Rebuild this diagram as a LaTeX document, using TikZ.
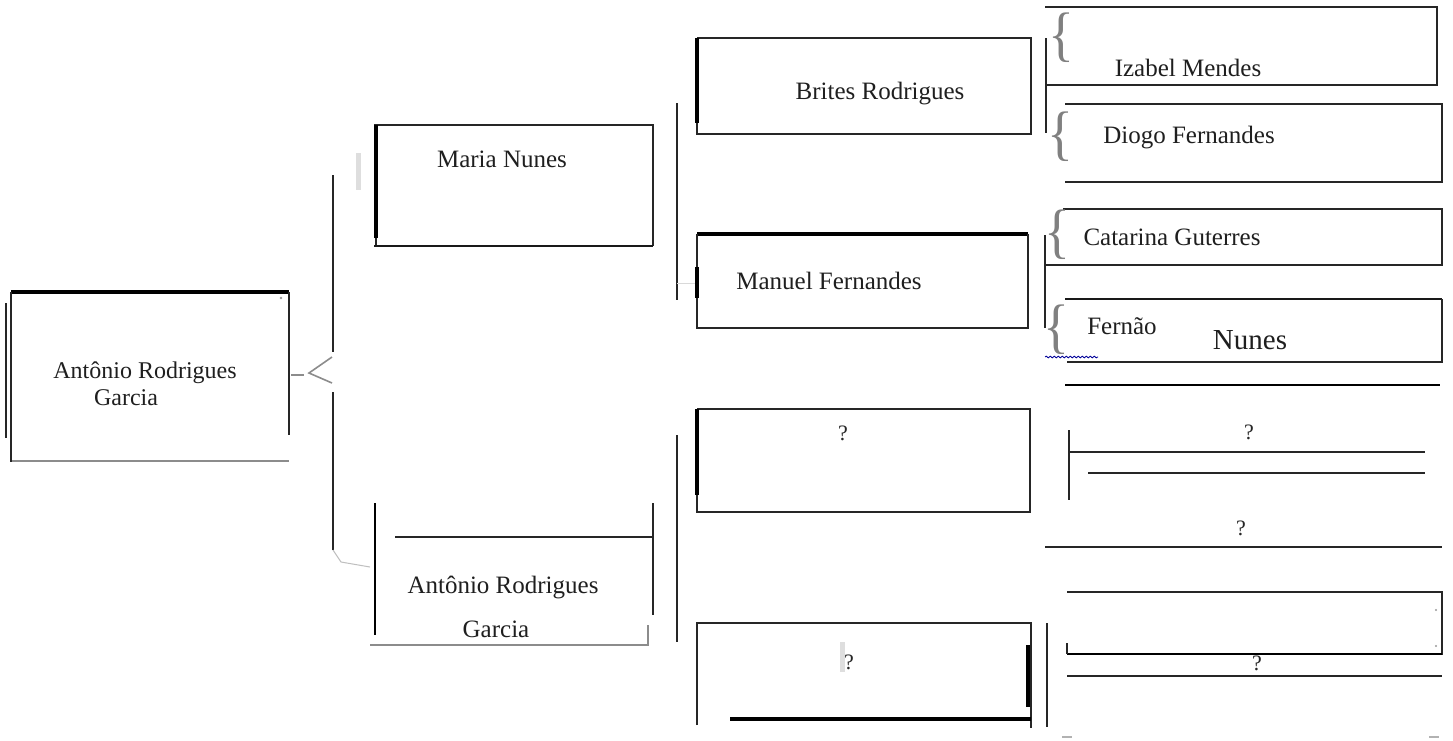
\documentclass[tikz,border=0pt]{standalone}
\usepackage{fontspec}
\setmainfont{Liberation Serif}
\usetikzlibrary{decorations.pathmorphing}
\begin{document}
\begin{tikzpicture}[x=1pt,y=-1pt,
  ln/.style={draw=black!85, line width=1.4pt},
  thk/.style={draw=black, line width=3.4pt},
  gl/.style={draw=black!45, line width=1.4pt},
  faint/.style={fill=black!13},
  lbl/.style={font=\fontsize{25}{30}\selectfont, inner sep=0pt, anchor=base, text=black!88},
  qm/.style={font=\fontsize{22}{26}\selectfont, inner sep=0pt, text=black!85},
  brc/.style={font=\fontsize{60}{62}\selectfont, inner sep=0pt, text=black!50, xscale=0.9}
]
\useasboundingbox[fill=white] (0,0) rectangle (1453,740);

% ---------- root box: Antonio Rodrigues Garcia ----------
\draw[thk] (11,292) -- (289,292);
\draw[ln] (289,292) -- (289,435);
\draw[gl] (11,461) -- (289,461);
\draw[ln] (11,292) -- (11,462);
\draw[ln] (6,303) -- (6,438);
\fill[black!40] (281,298) circle (1.3pt);
\node[lbl, font=\fontsize{24}{28}\selectfont] (rootA) at (145,378) {Antônio Rodrigues};
\node[lbl, font=\fontsize{24}{28}\selectfont] (rootB) at (126,405) {Garcia};

% ---------- connector root -> parents ----------
\coordinate (pTop) at (333,175);
\coordinate (pBot) at (333,550);
\draw[gl] (291,375) -- (304,375);
\draw[gl, line width=1.6pt] (332,357) -- (309,373) -- (332,383);
\draw[ln] (pTop) -- (333,352);
\draw[ln] (333,392) -- (pBot);
\draw[draw=black!25, line width=1pt] (pBot) -- (341,562) -- (370,567);
\fill[faint] (356,153) rectangle (361,190);

% ---------- Maria Nunes ----------
\draw[ln] (374,125) -- (653,125) -- (653,246);
\draw[thk] (376,125) -- (376,238);
\draw[ln] (376,238) -- (376,247);
\draw[draw=black!90, line width=2.2pt] (374,246) -- (653,246);
\node[lbl] (maria) at (502,167) {Maria Nunes};

% ---------- Antonio Rodrigues Garcia (father) ----------
\draw[draw=black, line width=2.6pt] (375,503) -- (375,635);
\draw[ln] (395,537) -- (653,537);
\draw[ln] (653,503) -- (653,615);
\draw[gl] (370,645) -- (648,645) -- (648,625);
\node[lbl] (fatherA) at (503,593) {Antônio Rodrigues};
\node[lbl] (fatherB) at (496,637) {Garcia};

% ---------- connectors to grandparents ----------
\draw[ln] (677,103) -- (677,300);
\draw[draw=black!15, line width=1pt] (677,283) -- (697,283);
\draw[ln] (677,435) -- (677,642);

% ---------- Brites Rodrigues ----------
\draw[ln] (697,38) -- (1031,38) -- (1031,134) -- (697,134) -- (697,123);
\draw[thk] (697,38) -- (697,123);
\node[lbl] (brites) at (880,99) {Brites Rodrigues};

% ---------- Manuel Fernandes ----------
\draw[thk] (697,234) -- (1028,234);
\draw[ln] (1028,234) -- (1028,328) -- (697,328) -- (697,234);
\draw[thk] (697,267) -- (697,298);
\node[lbl] (manuel) at (829,289) {Manuel Fernandes};

% ---------- ? box 1 ----------
\draw[ln] (697,409) -- (1030,409) -- (1030,512) -- (697,512) -- (697,495);
\draw[thk] (697,409) -- (697,495);
\node[qm] (q1) at (843,433) {?};

% ---------- ? box 2 ----------
\draw[ln] (697,725) -- (697,623) -- (1031,623) -- (1031,728);
\draw[thk] (1028,645) -- (1028,707);
\draw[thk] (730,719) -- (1031,719);
\fill[faint] (840,642) rectangle (845,672);
\node[qm] (q2) at (849,662) {?};
\draw[ln] (1047,623) -- (1047,727);

% ---------- right column: great-grandparents ----------
\draw[ln] (1046,38) -- (1046,133);
\draw[ln] (1045,7) -- (1437,7) -- (1437,85) -- (1046,85);
\node[brc] (b1) at (1061,38) {\{};
\node[lbl] (izabel) at (1188,76) {Izabel Mendes};

\draw[ln] (1065,104) -- (1442,104) -- (1442,182) -- (1065,182);
\node[brc] (b2) at (1060,137) {\{};
\node[lbl] (diogo) at (1189,143) {Diogo Fernandes};

\draw[ln] (1063,209) -- (1442,209) -- (1442,265) -- (1045,265);
\draw[ln] (1045,235) -- (1045,328);
\node[brc] (b3) at (1057,235) {\{};
\node[lbl] (catarina) at (1172,245) {Catarina Guterres};

\draw[draw=black!90, line width=2.2pt] (1065,299) -- (1442,299);
\draw[ln] (1442,299) -- (1442,362) -- (1067,362);
\node[brc] (b4) at (1056,330) {\{};
\node[lbl] (fernao) at (1122,334) {Fernão};
\node[lbl, font=\fontsize{29}{34}\selectfont] (nunes) at (1250,349) {Nunes};
\draw[draw=blue!60!black, line width=0.8pt, decorate,
      decoration={snake, amplitude=0.9pt, segment length=4pt}] (1045,357) -- (1098,357);
\draw[draw=black, line width=2.6pt] (1065,385) -- (1440,385);

\draw[ln] (1069,430) -- (1069,500);
\draw[ln] (1069,452) -- (1425,452);
\draw[ln] (1088,473) -- (1425,473);
\node[qm] (q3) at (1249,432) {?};
\node[qm] (q4) at (1241,528) {?};
\draw[ln] (1045,547) -- (1442,547);

\draw[ln] (1067,592) -- (1442,592) -- (1442,655);
\draw[thk, line width=2.6pt] (1067,654) -- (1442,654);
\draw[ln] (1067,643) -- (1067,654);
\fill[black!40] (1436,610) circle (1.2pt);
\fill[black!40] (1436,646) circle (1.2pt);
\node[qm] (q5) at (1257,663) {?};
\draw[ln] (1067,676) -- (1442,676);
\draw[draw=black!30, line width=1.4pt] (1062,737) -- (1072,737);
\draw[draw=black!30, line width=1.4pt] (1429,737) -- (1439,737);
\end{tikzpicture}
\end{document}
